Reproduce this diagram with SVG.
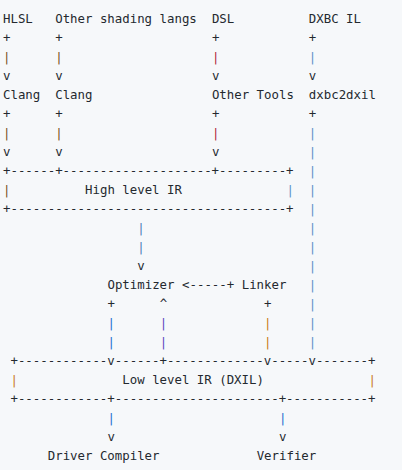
<svg xmlns="http://www.w3.org/2000/svg" width="402" height="470" viewBox="0 0 402 470">
<style>
text{font-family:"DejaVu Sans Mono","Liberation Mono",monospace;font-size:12.39px;fill:#24292f;white-space:pre}
.br{fill:#7a5020}
.rd{fill:#b02838}
.lb{fill:#5a90c8}
.mb{fill:#4a80b8}
.bl{fill:#1f6fd0}
.pu{fill:#5a48c0}
.or{fill:#c87818}
</style>
<rect x="0" y="0" width="402" height="470" fill="#f6f8fa"/>
<g id="hlsl"><text x="3" y="22.5">HLSL</text></g>
<g id="other-langs"><text x="55.22" y="22.5">Other shading langs</text></g>
<g id="dsl"><text x="211.88" y="22.5">DSL</text></g>
<g id="dxbc-il"><text x="308.86" y="22.5">DXBC IL</text></g>
<g id="clang1"><text x="3" y="98.66">Clang</text></g>
<g id="clang2"><text x="55.22" y="98.66">Clang</text></g>
<g id="other-tools"><text x="211.88" y="98.66">Other Tools</text></g>
<g id="dxbc2dxil"><text x="308.86" y="98.66">dxbc2dxil</text></g>
<g id="high-level-ir">
<text x="3" y="174.82">+------+--------------------+---------+</text>
<text x="3" y="193.86" class="br">|</text>
<text x="85.06" y="193.86">High level IR</text>
<text x="286.48" y="193.86" class="lb">|</text>
<text x="3" y="212.9">+-------------------------------------+</text>
</g>
<g id="optimizer"><text x="107.44" y="289.06">Optimizer</text></g>
<g id="linker"><text x="241.72" y="289.06">Linker</text></g>
<g id="low-level-ir">
<text x="10.46" y="365.22">+------------v------+-------------v-----v-------+</text>
<text x="10.46" y="384.26" class="or">|</text>
<text x="122.36" y="384.26">Low level IR (DXIL)</text>
<text x="368.54" y="384.26" class="or">|</text>
<text x="10.46" y="403.3">+------------+----------------------+-----------+</text>
</g>
<g id="driver-compiler"><text x="47.76" y="460.42">Driver Compiler</text></g>
<g id="verifier"><text x="256.64" y="460.42">Verifier</text></g>
<g id="connectors">
<text x="3" y="41.54">+</text><text x="3" y="60.58" class="br">|</text><text x="3" y="79.62">v</text>
<text x="55.22" y="41.54">+</text><text x="55.22" y="60.58" class="br">|</text><text x="55.22" y="79.62">v</text>
<text x="211.88" y="41.54">+</text><text x="211.88" y="60.58" class="rd">|</text><text x="211.88" y="79.62">v</text>
<text x="308.86" y="41.54">+</text><text x="308.86" y="60.58" class="lb">|</text><text x="308.86" y="79.62">v</text>
<text x="3" y="117.7">+</text><text x="3" y="136.74" class="br">|</text><text x="3" y="155.78">v</text>
<text x="55.22" y="117.7">+</text><text x="55.22" y="136.74" class="br">|</text><text x="55.22" y="155.78">v</text>
<text x="211.88" y="117.7">+</text><text x="211.88" y="136.74" class="rd">|</text><text x="211.88" y="155.78">v</text>
<text x="308.86" y="117.7">+</text>
<text x="308.86" y="136.74" class="lb">|</text>
<text x="308.86" y="155.78" class="lb">|</text>
<text x="308.86" y="174.82" class="lb">|</text>
<text x="308.86" y="193.86" class="lb">|</text>
<text x="308.86" y="212.9" class="lb">|</text>
<text x="308.86" y="231.94" class="lb">|</text>
<text x="308.86" y="250.98" class="lb">|</text>
<text x="308.86" y="270.02" class="lb">|</text>
<text x="308.86" y="289.06" class="lb">|</text>
<text x="308.86" y="308.1" class="lb">|</text>
<text x="308.86" y="327.14" class="lb">|</text>
<text x="308.86" y="346.18" class="lb">|</text>
<text x="137.28" y="231.94" class="mb">|</text>
<text x="137.28" y="250.98" class="mb">|</text>
<text x="137.28" y="270.02">v</text>
<text x="182.04" y="289.06">&lt;-----+</text>
<text x="107.44" y="308.1">+</text><text x="107.44" y="327.14" class="bl">|</text><text x="107.44" y="346.18" class="bl">|</text>
<text x="159.66" y="308.1">^</text><text x="159.66" y="327.14" class="pu">|</text><text x="159.66" y="346.18" class="pu">|</text>
<text x="264.1" y="308.1">+</text><text x="264.1" y="327.14" class="or">|</text><text x="264.1" y="346.18" class="or">|</text>
<text x="107.44" y="422.34" class="bl">|</text><text x="107.44" y="441.38">v</text>
<text x="279.02" y="422.34" class="bl">|</text><text x="279.02" y="441.38">v</text>
</g>
</svg>
